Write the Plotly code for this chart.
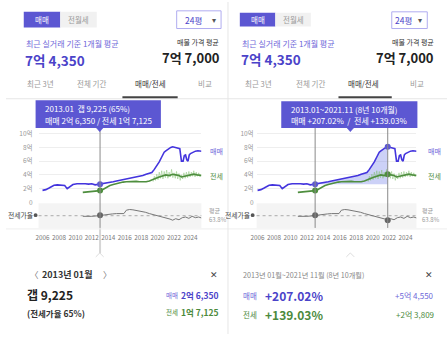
import plotly.graph_objects as go

# ---------------- data ----------------
sale_years = [2006.0, 2006.4, 2006.8, 2007.1, 2007.4, 2007.8, 2008.3, 2008.7, 2009.0, 2009.3,
              2009.7, 2010.2, 2010.7, 2011.2, 2011.6, 2012.0, 2012.4, 2012.7, 2013.0, 2013.4,
              2013.8, 2014.2, 2014.6, 2015.0, 2015.4, 2015.8, 2016.2, 2016.6, 2017.0, 2017.4,
              2017.8, 2018.2, 2018.6, 2019.0, 2019.3, 2019.6, 2019.9, 2020.2, 2020.5, 2020.8,
              2021.0, 2021.3, 2021.6, 2021.83, 2022.1, 2022.4, 2022.7, 2022.78, 2022.9, 2023.1,
              2023.25, 2023.4, 2023.55, 2023.7, 2023.85, 2024.0, 2024.3, 2024.6, 2024.9, 2025.2,
              2025.35]
sale_vals = [1.75, 1.85, 2.1, 2.35, 2.5, 2.55, 2.55, 2.45, 2.0, 2.3,
             2.6, 2.7, 2.75, 2.7, 2.65, 2.7, 2.55, 2.6, 2.635, 2.7,
             2.8, 2.9, 3.0, 3.1, 3.2, 3.3, 3.4, 3.45, 3.55, 3.7,
             3.85, 3.9, 4.1, 4.3, 4.35, 4.8, 5.3, 5.9, 6.6, 7.3,
             7.5, 7.8, 8.0, 8.09, 7.95, 7.9, 7.8, 6.6, 6.0, 6.0,
             6.8, 6.9, 6.2, 6.0, 6.9, 7.1, 7.3, 7.45, 7.5, 7.4,
             7.44]

jeonse_years = [2010.9, 2011.3, 2011.7, 2012.1, 2012.5, 2013.0, 2013.4, 2013.8, 2014.2, 2014.6,
                2015.0, 2015.4, 2015.8, 2016.2, 2016.6, 2017.0, 2017.4, 2017.8, 2018.2, 2018.6,
                2019.0, 2019.4, 2019.8, 2020.2, 2020.6, 2021.0, 2021.4, 2021.83, 2022.2, 2022.6,
                2022.9, 2023.2, 2023.6, 2024.0, 2024.4, 2024.8, 2025.35]
jeonse_vals = [1.45, 1.5, 1.55, 1.6, 1.65, 1.7125, 1.9, 2.2, 2.45, 2.6,
               2.75, 2.85, 2.95, 3.0, 3.05, 3.0, 3.05, 3.0, 2.95, 3.0,
               3.1, 3.25, 3.5, 3.7, 3.9, 4.0, 3.9, 4.09, 4.0, 3.9,
               3.7, 3.8, 3.9, 4.0, 4.1, 4.0, 3.9]

jeonse_tx_years = [2019.45, 2019.6, 2019.75, 2019.9, 2020.05, 2020.2, 2020.35, 2020.5, 2020.65, 2020.8,
                   2020.95, 2021.1, 2021.25, 2021.4, 2021.55, 2021.7, 2021.85, 2022.0, 2022.15, 2022.3,
                   2022.45, 2022.6, 2022.75, 2022.9, 2023.05, 2023.2, 2023.35, 2023.5, 2023.65, 2023.8,
                   2023.95, 2024.1, 2024.25, 2024.4, 2024.55, 2024.7, 2024.85, 2025.0, 2025.15, 2025.3]
jeonse_tx_vals = [3.0, 3.8, 3.2, 4.1, 3.3, 4.4, 3.5, 4.6, 3.4, 4.5,
                  3.6, 4.7, 3.5, 4.4, 3.7, 4.8, 3.6, 4.3, 3.5, 4.5,
                  3.4, 4.2, 3.2, 4.0, 3.4, 4.3, 3.5, 4.4, 3.6, 4.5,
                  3.7, 4.4, 3.8, 4.6, 3.7, 4.4, 3.8, 4.3, 3.7, 4.1]

ratio_years = [2010.9, 2011.5, 2012.0, 2012.5, 2013.0, 2013.5, 2014.0, 2014.5, 2015.0, 2015.5,
               2015.9, 2016.2, 2016.6, 2017.0, 2017.5, 2018.0, 2018.5, 2019.0, 2019.5, 2020.0,
               2020.5, 2021.0, 2021.5, 2021.83, 2022.2, 2022.6, 2023.0, 2023.4, 2023.8, 2024.2,
               2024.6, 2025.0, 2025.35]
ratio_vals = [62, 61, 62, 63, 65, 66, 67, 69, 70, 71,
              70, 80, 82, 81, 79, 77, 74, 70, 67, 64,
              61, 57, 54, 50.6, 55, 52, 58, 60, 56, 62,
              58, 60, 57]
ratio_avg = 63.8

year_ticks = [2006, 2008, 2010, 2012, 2014, 2016, 2018, 2020, 2022, 2024]
y_ticks = [0, 2, 4, 6, 8, 10]
y_labels = ["0", "2억", "4억", "6억", "8억", "10억"]

sel_start, sel_end = 2013.0, 2021.83
sale_start, sale_end = 2.635, 8.09
jeonse_start, jeonse_end = 1.7125, 4.09
ratio_start, ratio_end = 65, 50.6

# ---------------- styling helpers ----------------
W, H = 447, 338
FONT = "Noto Sans CJK KR"
PURPLE = "#4334dd"
PURPLE_TXT = "#4b43c9"
PURPLE_LT = "#6e67d9"
PURPLE_BOX = "#5c57d2"
GREEN = "#4e8e3e"
GREEN_TXT = "#4c8a3c"
GRAY = "#999999"


def X(p):
    return p / W


def Y(p):
    return 1 - p / H


fig = go.Figure()
annotations = []
shapes = []


def txt(x, y, s, size, color, xa="left", ya="middle"):
    annotations.append(dict(x=X(x), y=Y(y), xref="paper", yref="paper", text=s,
                            showarrow=False, xanchor=xa, yanchor=ya,
                            font=dict(size=size, color=color, family=FONT)))


def rect(x0, y0, x1, y1, fill, line=None, lw=1, layer="above"):
    shapes.append(dict(type="rect", xref="paper", yref="paper",
                       x0=X(x0), x1=X(x1), y0=Y(y1), y1=Y(y0),
                       fillcolor=fill, line=dict(color=line or fill, width=lw if line else 0),
                       layer=layer))


def hline(x0, x1, y, color, w=1):
    shapes.append(dict(type="line", xref="paper", yref="paper", x0=X(x0), x1=X(x1),
                       y0=Y(y), y1=Y(y), line=dict(color=color, width=w)))


def path(pts, color, fill=None, w=1):
    d = "M " + " L ".join(f"{X(a):.5f},{Y(b):.5f}" for a, b in pts)
    if fill:
        d += " Z"
    shapes.append(dict(type="path", xref="paper", yref="paper", path=d,
                       line=dict(color=color, width=w), fillcolor=fill or "rgba(0,0,0,0)"))


# ---------------- panels ----------------
panels = [
    dict(ax="", ax2="2", dom=(33, 198), rng=(2005.52, 2025.32), off=0, right=False),
    dict(ax="3", ax2="4", dom=(254, 416), rng=(2005.88, 2025.32), off=224, right=True),
]

layout_axes = {}
for p in panels:
    xa, xb = "x" + p["ax"], "x" + p["ax2"]
    ya, yb = "y" + p["ax"], "y" + p["ax2"]
    dom = [X(p["dom"][0]), X(p["dom"][1])]
    layout_axes["xaxis" + p["ax"]] = dict(domain=dom, range=list(p["rng"]), anchor=ya,
                                          showticklabels=False, showgrid=False, zeroline=False,
                                          showline=False, fixedrange=True)
    layout_axes["yaxis" + p["ax"]] = dict(domain=[Y(204.7), Y(129.8)], range=[-0.1, 10.6],
                                          anchor=xa, tickvals=y_ticks, ticktext=y_labels,
                                          showgrid=True, gridcolor="#eeeeee", gridwidth=1,
                                          zeroline=False, showline=False,
                                          tickfont=dict(size=6.5, color=GRAY, family=FONT),
                                          ticklabelstandoff=5 if not p["right"] else 2)
    layout_axes["xaxis" + p["ax2"]] = dict(domain=dom, range=list(p["rng"]), anchor=yb,
                                           tickvals=year_ticks, showgrid=False, zeroline=False,
                                           showline=False, ticks="", tickangle=0,
                                           tickfont=dict(size=6.3, color="#777", family=FONT),
                                           ticklabelstandoff=5)
    layout_axes["yaxis" + p["ax2"]] = dict(domain=[Y(230), Y(205)], range=[28, 100], anchor=xb,
                                           showticklabels=False, showgrid=False, zeroline=False,
                                           showline=False)

    # ratio background + average line
    shapes.append(dict(type="rect", xref=xb + " domain", yref=yb + " domain", x0=0, x1=1, y0=0, y1=1,
                       fillcolor="#f4f4f4", line=dict(width=0), layer="below"))
    shapes.append(dict(type="line", xref=xb + " domain", yref=yb, x0=0, x1=1,
                       y0=ratio_avg, y1=ratio_avg, line=dict(color="#aaaaaa", width=1, dash="dot"),
                       layer="below"))

    # fill for selected range (right panel)
    if p["right"]:
        fx = [x for x in sale_years if sel_start <= x <= sel_end]
        fy = [v for x, v in zip(sale_years, sale_vals) if sel_start <= x <= sel_end]
        fig.add_trace(go.Scatter(x=[sel_start, sel_end], y=[sale_start, sale_start], mode="lines",
                                 line=dict(width=0), xaxis=xa, yaxis=ya, hoverinfo="skip"))
        fig.add_trace(go.Scatter(x=fx, y=fy, mode="lines", line=dict(width=0), fill="tonexty",
                                 fillcolor="rgba(120,135,235,0.38)", xaxis=xa, yaxis=ya,
                                 hoverinfo="skip"))

    fig.add_trace(go.Scatter(x=jeonse_tx_years, y=jeonse_tx_vals, mode="lines",
                             line=dict(color="rgba(125,190,105,0.45)", width=1),
                             xaxis=xa, yaxis=ya, hoverinfo="skip"))
    fig.add_trace(go.Scatter(x=jeonse_years, y=jeonse_vals, mode="lines",
                             line=dict(color=GREEN, width=1.6), xaxis=xa, yaxis=ya, hoverinfo="skip"))
    fig.add_trace(go.Scatter(x=sale_years, y=sale_vals, mode="lines",
                             line=dict(color=PURPLE, width=1.6), xaxis=xa, yaxis=ya, hoverinfo="skip"))
    fig.add_trace(go.Scatter(x=ratio_years, y=ratio_vals, mode="lines",
                             line=dict(color="#777777", width=1), xaxis=xb, yaxis=yb, hoverinfo="skip"))

    # markers
    mx = [sel_start, sel_end] if p["right"] else [sel_start]
    fig.add_trace(go.Scatter(x=mx, y=[sale_start, sale_end][:len(mx)], mode="markers",
                             marker=dict(color=PURPLE_BOX, size=6), xaxis=xa, yaxis=ya, hoverinfo="skip"))
    fig.add_trace(go.Scatter(x=mx, y=[jeonse_start, jeonse_end][:len(mx)], mode="markers",
                             marker=dict(color=GREEN, size=6), xaxis=xa, yaxis=ya, hoverinfo="skip"))
    fig.add_trace(go.Scatter(x=mx, y=[ratio_start, ratio_end][:len(mx)], mode="markers",
                             marker=dict(color="#666666", size=6), xaxis=xb, yaxis=yb, hoverinfo="skip"))

    # vertical selection lines
    for v in mx:
        shapes.append(dict(type="line", xref=xa, yref="paper", x0=v, x1=v, y0=Y(230), y1=Y(128),
                           line=dict(color="#8a8a8a", width=1)))
    if not p["right"]:
        shapes.append(dict(type="line", xref=xa, yref="paper", x0=sel_start, x1=sel_start,
                           y0=Y(256), y1=Y(230), line=dict(color="#d6d6d6", width=2)))

    # series labels
    lx = 205 if not p["right"] else 426
    txt(lx, 152, "매매", 7, PURPLE_LT)
    txt(lx, 177, "전세", 7, GREEN_TXT)
    # ratio labels
    rx = 33 if not p["right"] else 253
    txt(rx - 4, 217, "전세가율", 6.8, "#444", xa="right")
    shapes.append(dict(type="circle", xref="paper", yref="paper", x0=X(rx - 5), x1=X(rx - 1),
                       y0=Y(219), y1=Y(215), fillcolor="#555", line=dict(width=0)))
    ax_ = 204 if not p["right"] else 420
    txt(ax_, 212.5, "평균", 6, GRAY)
    txt(ax_, 221.5, "63.8%", 6, GRAY)

# ---------------- global dividers ----------------
hline(0, 447, 98.5, "#e6e6e6", 1)
hline(0, 447, 231, "#eeeeee", 1)
shapes.append(dict(type="line", xref="paper", yref="paper", x0=X(225), x1=X(225), y0=0, y1=1,
                   line=dict(color="#e6e6e6", width=1)))

# ---------------- left panel UI ----------------
rect(18, 10, 55, 26, PURPLE_BOX)
rect(55, 10, 92, 26, "#f1f1f1")
txt(36.5, 18, "매매", 7.5, "white", xa="center")
txt(73.5, 18, "전월세", 7.5, "#999", xa="center")
rect(173, 9, 218, 27, "white", line="#b0acf0", lw=1)
txt(190, 18, "24평", 8.5, PURPLE_TXT, xa="center")
txt(211, 17.5, "▾", 8, "#555", xa="center")
txt(18, 42, "최근 실거래 기준 1개월 평균", 8, PURPLE_LT)
txt(17, 59, "<b>7억 4,350</b>", 13.5, PURPLE_TXT)
txt(218, 41, "매물 가격 평균", 7, "#333", xa="right")
txt(219, 56, "<b>7억 7,000</b>", 13, "#222", xa="right")
for cx, s, c in [(35, "최근 3년", GRAY), (87, "전체 기간", GRAY), (146.5, "매매/전세", "#333"), (201.5, "비교", GRAY)]:
    txt(cx, 83, s, 7.5, c, xa="center")
hline(118, 174, 97, "#444", 2)

# left tooltip
rect(30, 100, 157, 128.3, PURPLE_BOX)
path([(91.5, 128), (98.5, 128), (95, 132)], PURPLE_BOX, fill=PURPLE_BOX, w=0.5)
txt(38, 108.5, "2013.01&nbsp;&nbsp;갭 9,225 (65%)", 8, "white")
txt(38, 120.5, "매매 2억 6,350 / 전세 1억 7,125", 8, "white")

# left bottom card
path([(91, 259.5), (95, 255.5), (99, 259.5)], "#dddddd", w=1)
txt(22, 277, "〈", 8.5, "#777")
txt(34, 277, "<b>2013년 01월</b>", 9, "#333")
txt(96, 277, "〉", 8.5, "#777")
txt(211, 277, "✕", 9, "#444", xa="center")
txt(19, 298, "<b>갭 9,225</b>", 12, "#222")
txt(19, 317, "<b>(전세가율 65%)</b>", 8.5, "#333")
txt(160, 298, "매매", 6.5, PURPLE_LT)
txt(218, 298, "<b>2억 6,350</b>", 8.5, PURPLE_TXT, xa="right")
txt(160, 316, "전세", 6.5, GREEN_TXT)
txt(218, 316, "<b>1억 7,125</b>", 8.5, GREEN_TXT, xa="right")

# ---------------- right panel UI ----------------
rect(237, 11, 273, 25, PURPLE_BOX)
rect(273, 11, 309, 25, "#f1f1f1")
txt(255, 18, "매매", 7.5, "white", xa="center")
txt(291, 18, "전월세", 7.5, "#999", xa="center")
rect(391, 10, 427, 27, "white", line="#b0acf0", lw=1)
txt(403, 18, "24평", 8.5, PURPLE_TXT, xa="center")
txt(420, 17.5, "▾", 8, "#555", xa="center")
txt(237, 42, "최근 실거래 기준 1개월 평균", 8, PURPLE_LT)
txt(236, 58, "<b>7억 4,350</b>", 13.5, PURPLE_TXT)
txt(436, 41, "매물 가격 평균", 7, "#333", xa="right")
txt(436, 56, "<b>7억 7,000</b>", 13, "#222", xa="right")
for cx, s, c in [(255.5, "최근 3년", GRAY), (309, "전체 기간", GRAY), (362, "매매/전세", "#333"), (417, "비교", GRAY)]:
    txt(cx, 83, s, 7.5, c, xa="center")
hline(337, 391, 97, "#444", 2)

# right tooltip
rect(279, 101, 417, 128.3, PURPLE_BOX)
path([(345.5, 128), (352.5, 128), (349, 132)], PURPLE_BOX, fill=PURPLE_BOX, w=0.5)
txt(287, 109, "2013.01~2021.11 (8년 10개월)", 8, "white")
txt(287, 120.5, "매매 +207.02%&nbsp;&nbsp;/&nbsp;&nbsp;전세 +139.03%", 8, "white")

# right bottom card
path([(345, 259.5), (349, 255.5), (353, 259.5)], "#dddddd", w=1)
txt(238, 278, "2013년 01월~2021년 11월 (8년 10개월)", 7.2, "#888")
txt(429, 277, "✕", 9, "#444", xa="center")
txt(238, 299, "매매", 7.5, PURPLE_LT)
txt(260, 299, "<b>+207.02%</b>", 12, PURPLE_TXT)
txt(436, 299, "+5억 4,550", 8, PURPLE_LT, xa="right")
txt(238, 318, "전세", 7.5, GREEN_TXT)
txt(260, 318, "<b>+139.03%</b>", 12, GREEN_TXT)
txt(436, 318, "+2억 3,809", 8, GREEN_TXT, xa="right")

fig.update_layout(width=W, height=H, margin=dict(l=0, r=0, t=0, b=0),
                  paper_bgcolor="white", plot_bgcolor="white", showlegend=False,
                  font=dict(family=FONT), annotations=annotations, shapes=shapes,
                  **layout_axes)

fig.write_html("out.html")
